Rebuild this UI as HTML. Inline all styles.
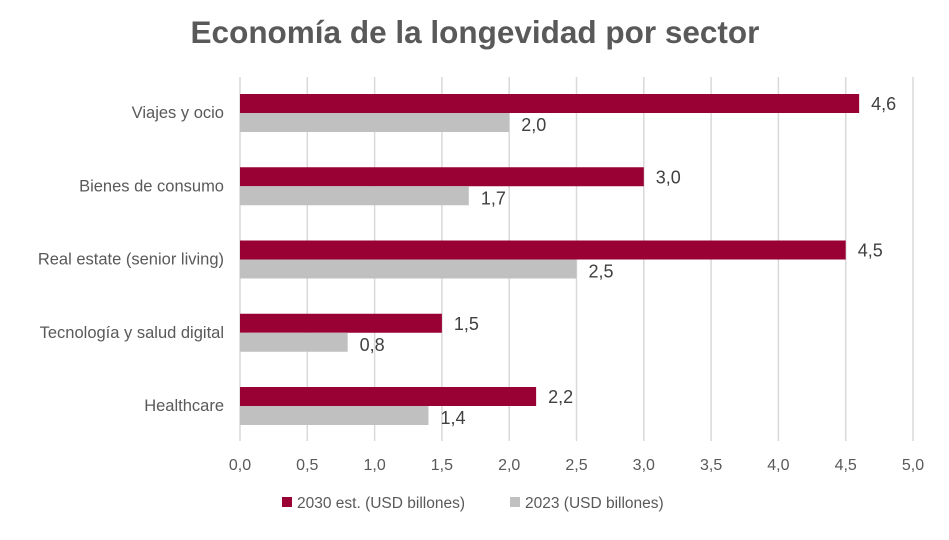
<!DOCTYPE html>
<html><head><meta charset="utf-8"><style>
body{margin:0;background:#fff;width:949px;height:535px;overflow:hidden;font-family:"Liberation Sans",sans-serif}
svg text{font-family:"Liberation Sans",sans-serif}
</style></head><body>
<svg id="chart" width="949" height="535" xmlns="http://www.w3.org/2000/svg">
<text x="475" y="43" text-anchor="middle" font-size="31.5" font-weight="bold" fill="#595959">Economía de la longevidad por sector</text>
<g id="grid"></g><g id="bars"></g><g id="labels"></g>
<g>
<rect x="282" y="497" width="10" height="10" fill="#990033"/>
<text x="297" y="508" font-size="15.5" fill="#595959">2030 est. (USD billones)</text>
<rect x="510" y="497" width="10" height="10" fill="#c0c0c0"/>
<text x="525" y="508" font-size="15.5" fill="#595959">2023 (USD billones)</text>
</g>
</svg>
<script>
const categories=["Viajes y ocio","Bienes de consumo","Real estate (senior living)","Tecnología y salud digital","Healthcare"];
const values2030=[4.6,3.0,4.5,1.5,2.2];
const values2023=[2.0,1.7,2.5,0.8,1.4];
const ticks=[0,0.5,1,1.5,2,2.5,3,3.5,4,4.5,5];
const NS="http://www.w3.org/2000/svg";
const px0=240,px1=913,xmax=5,plotTop=77,plotBottom=441,c0=113,step=73.25,bh=19;
const xs=v=>px0+(px1-px0)*v/xmax;
const fmt=v=>v.toFixed(1).replace('.',',');
function mk(tag,attrs,parent,text){const e=document.createElementNS(NS,tag);for(const k in attrs)e.setAttribute(k,attrs[k]);if(text!==undefined)e.textContent=text;document.getElementById(parent).appendChild(e);return e;}
ticks.forEach(t=>{
 const l=mk('line',{x1:xs(t),x2:xs(t),y1:plotTop,y2:plotBottom,stroke:'#d9d9d9','stroke-width':1.5},'grid');
 
 
 const tx=mk('text',{x:xs(t),y:470,'text-anchor':'middle','font-size':16,fill:'#595959'},'labels',fmt(t));
 
 
});
categories.forEach((c,i)=>{
 const cy=c0+i*step;
 const t=mk('text',{x:224,y:cy+5,'text-anchor':'end','font-size':16.5,fill:'#595959'},'labels',c);
 
 
 const b1=mk('rect',{x:px0,y:cy-bh,width:xs(values2030[i])-px0,height:bh,fill:'#990033'},'bars');
 
 
 const b2=mk('rect',{x:px0,y:cy,width:xs(values2023[i])-px0,height:bh,fill:'#c0c0c0'},'bars');
 
 
 const l1=mk('text',{x:xs(values2030[i])+12,y:cy-3,'font-size':18,fill:'#404040'},'labels',fmt(values2030[i]));
 
 
 const l2=mk('text',{x:xs(values2023[i])+12,y:cy+18,'font-size':18,fill:'#404040'},'labels',fmt(values2023[i]));
 
 
});
</script>
</body></html>
